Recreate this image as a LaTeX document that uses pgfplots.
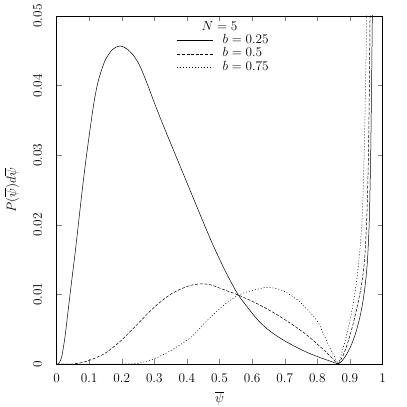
\RequirePackage{fix-cm}
\documentclass[border=0pt]{standalone}
\usepackage{pgfplots}
\pgfplotsset{compat=1.18}
\begin{document}
\fontsize{13.3}{16}\selectfont
\begin{tikzpicture}
\path[use as bounding box] (-56.5bp,-43bp) rectangle (350.5bp,364bp);
\begin{axis}[
  scale only axis, width=326bp, height=348bp,
  xmin=0, xmax=1, ymin=0, ymax=0.05,
  xtick={0,0.1,0.2,0.3,0.4,0.5,0.6,0.7,0.8,0.9,1},
  ytick={0,0.01,0.02,0.03,0.04,0.05},
  scaled y ticks=false,
  yticklabel style={/pgf/number format/fixed,/pgf/number format/precision=2,
    xshift=-10bp, rotate=90, anchor=south},
  xticklabel style={yshift=-5.6bp},
  tick align=inside, major tick length=5bp,
  axis line style={line width=0.8pt},
  xlabel={$\overline{\psi}$},
  ylabel={$P(\overline{\psi})d\overline{\psi}$},
  xlabel style={at={(axis description cs:0.5,-0.098)}, anchor=center},
  ylabel style={at={(axis description cs:-0.1365,0.5)}, anchor=center},
  legend style={draw=none, fill=none, inner sep=0pt,
    at={(axis description cs:0.3696,0.9885)}, anchor=north west,
    nodes={inner sep=1bp, text height=9bp, text depth=3bp},
    row sep=-0.7bp, column sep=8bp},
  legend cell align=left,
  legend image code/.code={\draw[#1] (0bp,0bp) -- (36bp,0bp);},
  every axis plot/.append style={line width=0.5pt, black},
]
\addlegendimage{empty legend}
\addlegendentry{\hspace{-21bp}$N=5$}

% b = 0.25
\addplot[smooth, tension=0.5] coordinates {
(0,0) (0.006,0) (0.016,0.00105) (0.026,0.0039) (0.036,0.0078) (0.047,0.0121)
(0.058,0.0163) (0.07,0.0213) (0.082,0.0262) (0.093,0.0303) (0.108,0.0354)
(0.118,0.0384) (0.13,0.0410) (0.149,0.0436) (0.172,0.0452) (0.195,0.0457)
(0.215,0.0453) (0.235,0.0444) (0.255,0.0429) (0.278,0.0403) (0.302,0.0373)
(0.33,0.0340) (0.36,0.0306) (0.39,0.0272) (0.42,0.0238) (0.45,0.0204)
(0.48,0.0171) (0.51,0.0141) (0.535,0.0118) (0.558,0.0099) (0.59,0.0079)
(0.62,0.0062) (0.65,0.0049) (0.68,0.0039) (0.716,0.0029) (0.767,0.0017)
(0.81,0.0009) (0.84,0.0004) (0.864,0)};
\addlegendentry{$b=0.25$}
\addplot[smooth, tension=0.5, forget plot] coordinates {
(0.864,0) (0.875,0.0004) (0.89,0.0014) (0.905,0.0028) (0.918,0.0045)
(0.93,0.0066) (0.94,0.0090) (0.948,0.0118) (0.954,0.0150) (0.959,0.0200)
(0.963,0.028) (0.966,0.038) (0.969,0.051)};

% b = 0.5
\addplot[smooth, tension=0.5, dash pattern=on 3bp off 1.6bp] coordinates {
(0,0) (0.05,0) (0.067,0.0001) (0.098,0.00048) (0.149,0.00154) (0.2,0.00345)
(0.251,0.00585) (0.302,0.00825) (0.353,0.0101) (0.404,0.0112) (0.44,0.0115)
(0.471,0.0114) (0.512,0.0107) (0.558,0.0099) (0.614,0.0087) (0.665,0.0074)
(0.716,0.0059) (0.767,0.0042) (0.818,0.0021) (0.84,0.0011) (0.864,0)};
\addlegendentry{$b=0.5$}
\addplot[smooth, tension=0.5, forget plot, dash pattern=on 3bp off 1.6bp] coordinates {
(0.864,0) (0.88,0.0013) (0.895,0.0033) (0.91,0.0058) (0.925,0.0088)
(0.937,0.0118) (0.945,0.0150) (0.951,0.020) (0.956,0.028) (0.959,0.037)
(0.962,0.051)};

% b = 0.75
\addplot[smooth, tension=0.5, dash pattern=on 1bp off 2bp] coordinates {
(0,0) (0.2,0) (0.251,0.0001) (0.302,0.0008) (0.353,0.0020) (0.414,0.0039)
(0.461,0.0062) (0.512,0.0084) (0.558,0.0099) (0.604,0.0106) (0.648,0.0110)
(0.696,0.0105) (0.747,0.0089) (0.798,0.0063) (0.818,0.0044) (0.84,0.0022)
(0.864,0)};
\addlegendentry{$b=0.75$}
\addplot[smooth, tension=0.5, forget plot, dash pattern=on 1bp off 2bp] coordinates {
(0.864,0) (0.875,0.0016) (0.888,0.0038) (0.9,0.0062) (0.912,0.0092)
(0.922,0.0125) (0.93,0.0160) (0.937,0.0205) (0.942,0.027) (0.946,0.035)
(0.949,0.043) (0.952,0.051)};
\end{axis}
\end{tikzpicture}
\end{document}
